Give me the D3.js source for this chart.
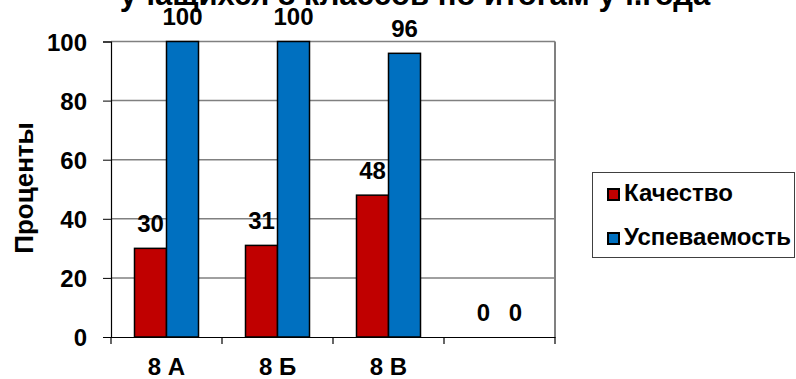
<!DOCTYPE html>
<html><head><meta charset="utf-8">
<script src="https://cdn.jsdelivr.net/npm/d3@7/dist/d3.min.js"></script>
<style>body{margin:0;background:#fff}svg{display:block}text{font-family:Arial,"Liberation Sans",sans-serif;font-weight:bold}</style>
</head><body><svg id="c" width="796" height="379"></svg>
<script>
const categories = ["8 А", "8 Б", "8 В", ""];
const seriesNames = ["Качество", "Успеваемость"];
const quality = [30, 31, 48, 0];
const success = [100, 100, 96, 0];
const yTicks = [0, 20, 40, 60, 80, 100];
const colors = ["#C00000", "#0070C0"];
const titleText = "учащихся 8 классов по итогам уч.года";

const svg = d3.select("#c");
const L = 111, R = 555, T = 41.5, B = 337;
const x = d3.scaleBand().domain(categories).range([L, R]).paddingInner(0).paddingOuter(0);
const y = d3.scaleLinear().domain([0, 100]).range([B, T]);
const xs = d3.scaleBand().domain([0, 1]).range([23.5, 87.5]);
const series = [quality, success];
const FONT = "Arial, 'Liberation Sans', sans-serif";

// gridlines
svg.append("g").selectAll("line").data(yTicks.filter(d => d > 0)).join("line")
  .attr("x1", L).attr("x2", R).attr("y1", d => y(d)).attr("y2", d => y(d))
  .attr("stroke", "#808080").attr("stroke-width", 1.5);
// right border
svg.append("line").attr("x1", R).attr("x2", R).attr("y1", T).attr("y2", B)
  .attr("stroke", "#808080").attr("stroke-width", 2);

// bars
categories.forEach((c, i) => {
  series.forEach((s, k) => {
    const v = s[i];
    if (v > 0) {
      svg.append("rect").attr("x", x(c) + xs(k)).attr("y", y(v))
        .attr("width", xs.bandwidth()).attr("height", y(0) - y(v))
        .attr("fill", colors[k]).attr("stroke", "#000").attr("stroke-width", 1.5);
    }
  });
});

// y axis
const ya = svg.append("g").attr("transform", `translate(${L},0)`)
  .call(d3.axisLeft(y).tickValues(yTicks).tickSize(8).tickPadding(16));
ya.select(".domain").attr("stroke", "#000").attr("stroke-width", 1.2);
ya.selectAll(".tick line").attr("stroke", "#000");
ya.selectAll("text").attr("font-size", 24).attr("font-family", FONT)
  .attr("font-weight", "bold").attr("fill", "#000").attr("dy", "0.36em");

// x axis
const xa = svg.append("g").attr("transform", `translate(0,${B})`)
  .call(d3.axisBottom(x).tickSize(0).tickPadding(21));
xa.select(".domain").attr("stroke", "#000").attr("stroke-width", 1.2);
xa.selectAll("text").attr("font-size", 24).attr("font-family", FONT)
  .attr("font-weight", "bold").attr("fill", "#000");
// category separator ticks
svg.append("g").selectAll("line").data(categories.concat(["_end"])).join("line")
  .attr("x1", (d, i) => L + i * x.bandwidth()).attr("x2", (d, i) => L + i * x.bandwidth())
  .attr("y1", B).attr("y2", B + 7).attr("stroke", "#000").attr("stroke-width", 1.2);

// title
svg.append("text").attr("x", 415).attr("y", 5).attr("text-anchor", "middle")
  .attr("font-size", 31).text(titleText);

// value labels
categories.forEach((c, i) => {
  series.forEach((s, k) => {
    const v = s[i];
    svg.append("text").attr("x", x(c) + xs(k) + xs.bandwidth() / 2).attr("y", y(v) - 16.5)
      .attr("text-anchor", "middle").attr("font-size", 24).text(v);
  });
});

// y title
svg.append("text").attr("transform", "translate(33,188) rotate(-90)")
  .attr("text-anchor", "middle").attr("font-size", 26).text("Проценты");

// legend
const lg = svg.append("g");
lg.append("rect").attr("x", 592.5).attr("y", 172.5).attr("width", 202).attr("height", 85)
  .attr("fill", "#fff").attr("stroke", "#404040").attr("stroke-width", 1);
seriesNames.forEach((n, k) => {
  const yy = 189 + k * 44;
  lg.append("rect").attr("x", 608).attr("y", yy).attr("width", 11).attr("height", 11)
    .attr("fill", colors[k]).attr("stroke", "#000").attr("stroke-width", 2);
  lg.append("text").attr("x", 624).attr("y", yy + 12).attr("font-size", 24).text(n);
});
</script></body></html>
